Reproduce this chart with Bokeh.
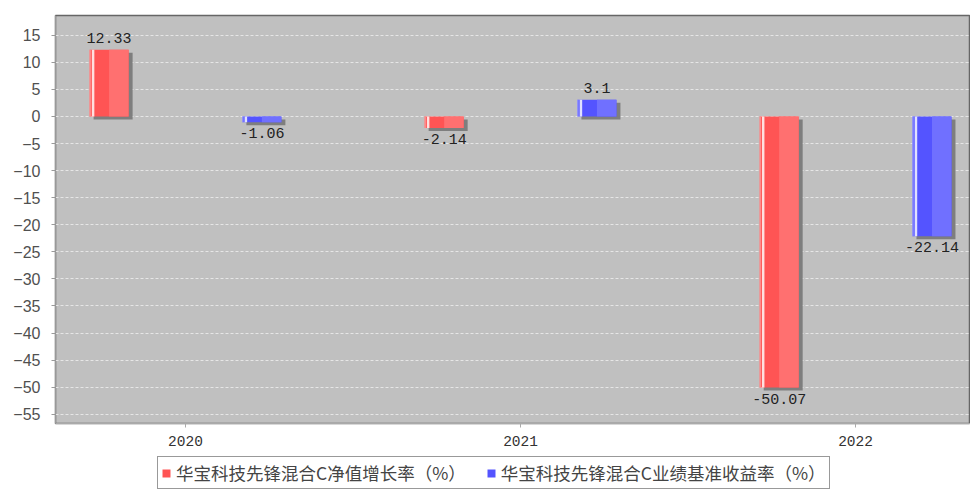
from bokeh.plotting import figure
from bokeh.layouts import column
from bokeh.models import Range1d, FixedTicker, ColumnDataSource, Legend, LegendItem, LabelSet
from bokeh.embed import file_html
from bokeh.resources import INLINE
from bokeh.core.properties import value

# ---- data ----
years = ["2020", "2021", "2022"]
nav_growth = [12.33, -2.14, -50.07]
benchmark = [-1.06, 3.1, -22.14]
series_names = ["华宝科技先锋混合C净值增长率（%）", "华宝科技先锋混合C业绩基准收益率（%）"]
y_ticks = list(range(-55, 20, 5))
y_tick_labels = [str(t).replace("-", "\u2212") for t in y_ticks]

# ---- styles ----
PX_X = 335.0      # pixels per category
PX_Y = 5.414      # pixels per unit on y
BAR_W = 39 / PX_X
OFFSETS = [-0.228, 0.228]
MAIN = ["#FF5454", "#5454FF"]
RIGHT = ["#FF7070", "#7070FF"]
STRIPE = ["#FFE0E0", "#E0E0FF"]
EDGE = ["#FF9A9A", "#9A9AFF"]
SHADOW = "#7E7E7E"

p = figure(frame_width=915, frame_height=408,
           x_range=Range1d(-0.388, 2.343), y_range=Range1d(-56.71, 18.65),
           output_backend="svg", toolbar_location=None,
           min_border_left=55, min_border_right=0, min_border_top=15, min_border_bottom=0)
p.background_fill_color = "#C0C0C0"
p.border_fill_color = "white"
p.outline_line_color = "#666666"
p.outline_line_width = 1.5

p.xgrid.grid_line_color = None
p.ygrid.grid_line_color = "#E6E6E6"
p.ygrid.grid_line_dash = "3 2"
p.ygrid.grid_line_width = 1

p.yaxis.ticker = FixedTicker(ticks=y_ticks)
p.yaxis.major_label_overrides = dict(zip(y_ticks, y_tick_labels))
p.yaxis.major_label_text_font = "Liberation Sans"
p.yaxis.major_label_text_font_size = "16px"
p.yaxis.major_label_text_color = "#505050"
p.yaxis.axis_line_color = "#999999"
p.yaxis.major_tick_line_color = "#999999"
p.yaxis.major_tick_out = 4
p.yaxis.major_tick_in = 0
p.yaxis.minor_tick_line_color = None
p.yaxis.major_label_standoff = 11

p.xaxis.ticker = FixedTicker(ticks=list(range(len(years))))
p.xaxis.major_label_overrides = {i: y for i, y in enumerate(years)}
p.xaxis.major_label_text_font = "Liberation Mono"
p.xaxis.major_label_text_font_size = "14.5px"
p.xaxis.major_label_text_color = "#333333"
p.xaxis.axis_line_color = "#AAAAAA"
p.xaxis.major_tick_line_color = "#AAAAAA"
p.xaxis.major_tick_out = 4
p.xaxis.major_tick_in = 0
p.xaxis.minor_tick_line_color = None
p.xaxis.major_label_standoff = 8

main_renderers = []
for s, vals in enumerate([nav_growth, benchmark]):
    xs = [i + OFFSETS[s] for i in range(len(years))]
    zero = [0.0] * len(vals)
    src = ColumnDataSource(dict(x=xs, top=vals, bottom=zero))
    # shadow
    sh = ColumnDataSource(dict(x=[x + 4 / PX_X for x in xs],
                               top=[max(v, 0) - 3 / PX_Y for v in vals],
                               bottom=[min(v, 0) - 3 / PX_Y for v in vals]))
    p.vbar(x="x", top="top", bottom="bottom", width=BAR_W, source=sh,
           fill_color=SHADOW, line_color=None)
    r = p.vbar(x="x", top="top", bottom="bottom", width=BAR_W, source=src,
               fill_color=MAIN[s], line_color=None)
    main_renderers.append(r)
    # lighter right band
    rb = ColumnDataSource(dict(x=[x + BAR_W * 0.25 for x in xs], top=vals, bottom=zero))
    p.vbar(x="x", top="top", bottom="bottom", width=BAR_W * 0.5, source=rb,
           fill_color=RIGHT[s], line_color=None)
    # left edge
    ed = ColumnDataSource(dict(x=[x - BAR_W / 2 + 0.5 / PX_X for x in xs], top=vals, bottom=zero))
    p.vbar(x="x", top="top", bottom="bottom", width=1.2 / PX_X, source=ed,
           fill_color=EDGE[s], line_color=None)
    # highlight stripe
    st = ColumnDataSource(dict(x=[x - BAR_W / 2 + 3.5 / PX_X for x in xs], top=vals, bottom=zero))
    p.vbar(x="x", top="top", bottom="bottom", width=2.5 / PX_X, source=st,
           fill_color=STRIPE[s], line_color=None)

    pos = ColumnDataSource(dict(x=[x for x, v in zip(xs, vals) if v >= 0],
                                y=[v for v in vals if v >= 0],
                                label=[str(v) for v in vals if v >= 0]))
    neg = ColumnDataSource(dict(x=[x for x, v in zip(xs, vals) if v < 0],
                                y=[v for v in vals if v < 0],
                                label=[str(v) for v in vals if v < 0]))
    p.add_layout(LabelSet(x="x", y="y", text="label", source=pos, text_align="center",
                          text_baseline="bottom", y_offset=7, text_font=value("Liberation Mono"),
                          text_font_size="15px", text_color="#222222"))
    p.add_layout(LabelSet(x="x", y="y", text="label", source=neg, text_align="center",
                          text_baseline="top", y_offset=-6, text_font=value("Liberation Mono"),
                          text_font_size="15px", text_color="#222222"))

# ---- legend strip below the chart ----
lg = figure(width=970, height=42, output_backend="svg", toolbar_location=None,
            x_axis_type=None, y_axis_type=None, x_range=Range1d(0, 1), y_range=Range1d(0, 1),
            min_border_left=0, min_border_right=0, min_border_top=0, min_border_bottom=0)
lg.outline_line_color = None
lg.xgrid.grid_line_color = None
lg.ygrid.grid_line_color = None
lg.background_fill_color = "white"
dummy = []
for s in range(2):
    # zero-height proxies: they draw nothing, they only carry the legend swatch colour
    dummy.append(lg.vbar(x=[0.5], top=[0.0], bottom=[0.0], width=0.0,
                         fill_color=MAIN[s], line_color=None))

legend = Legend(items=[LegendItem(label=series_names[i], renderers=[dummy[i]]) for i in range(2)],
                orientation="horizontal", location=(102, 1))
legend.label_text_font = "Noto Sans CJK SC"
legend.label_text_font_size = "17.5px"
legend.label_text_color = "#444444"
legend.glyph_width = 10
legend.glyph_height = 10
legend.label_standoff = 5
legend.spacing = 20
legend.padding = 3
legend.margin = 0
legend.border_line_color = "#333333"
legend.border_line_width = 1.5
legend.background_fill_color = "white"
legend.background_fill_alpha = 1.0
legend.label_height = 16
lg.add_layout(legend, "center")

layout = column(p, lg, spacing=0)
open("out.html", "w").write(file_html(layout, INLINE))
